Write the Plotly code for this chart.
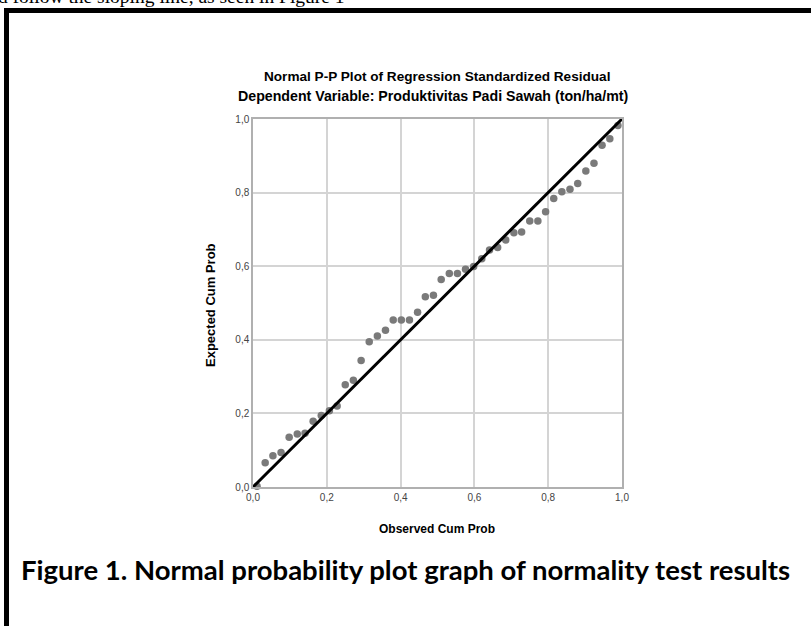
import plotly.graph_objects as go

# Observed cumulative probability (x) and expected cumulative probability (y)
observed_cum_prob = [0.011, 0.033, 0.054, 0.076, 0.098, 0.120, 0.141, 0.163, 0.185, 0.207,
                     0.228, 0.250, 0.272, 0.293, 0.315, 0.337, 0.359, 0.380, 0.402, 0.424,
                     0.446, 0.467, 0.489, 0.510, 0.532, 0.554, 0.576, 0.598, 0.620, 0.641,
                     0.663, 0.685, 0.707, 0.728, 0.750, 0.772, 0.793, 0.815, 0.837, 0.859,
                     0.880, 0.902, 0.924, 0.946, 0.967, 0.989]
expected_cum_prob = [0.002, 0.066, 0.085, 0.094, 0.135, 0.144, 0.146, 0.179, 0.194, 0.207,
                     0.220, 0.278, 0.290, 0.344, 0.395, 0.410, 0.426, 0.454, 0.454, 0.454,
                     0.475, 0.517, 0.521, 0.564, 0.580, 0.580, 0.592, 0.599, 0.620, 0.644,
                     0.651, 0.671, 0.691, 0.693, 0.723, 0.723, 0.748, 0.784, 0.802, 0.809,
                     0.825, 0.859, 0.880, 0.929, 0.946, 0.982]
ref_line_x = [0.0, 1.0]
ref_line_y = [0.0, 1.0]
tick_vals = [0.0, 0.2, 0.4, 0.6, 0.8, 1.0]

W, H = 811, 626
L, R, T, B = 253, 622, 119, 487  # plot area in pixels


def px(x):
    return (x - L) / (R - L)


def py(y):
    return (B - y) / (B - T)


fig = go.Figure()
fig.add_trace(go.Scatter(x=observed_cum_prob, y=expected_cum_prob, mode="markers",
                         marker=dict(size=7.5, color="#7a7a7a", line=dict(width=0)),
                         showlegend=False, cliponaxis=False))
fig.add_trace(go.Scatter(x=ref_line_x, y=ref_line_y, mode="lines",
                         line=dict(color="black", width=3), showlegend=False))

axis_common = dict(range=[0, 1], tickvals=tick_vals, tickformat=".1f",
                   showgrid=True, gridcolor="#d4d4d4", gridwidth=1.5,
                   showline=True, linecolor="#b0b0b0", linewidth=1.5, mirror=True,
                   zeroline=False, ticks="",
                   tickfont=dict(family="Liberation Sans, Arial", size=10, color="#444444"))

fig.update_layout(
    width=W, height=H,
    margin=dict(l=L, r=W - R, t=T, b=H - B, pad=0),
    paper_bgcolor="white", plot_bgcolor="white",
    separators=",.",
    xaxis=dict(**axis_common),
    yaxis=dict(**axis_common),
)

annos = [
    dict(text="<b>Normal P-P Plot of Regression Standardized Residual</b>", x=px(437), y=py(76),
         size=13.6, family="Liberation Sans, Arial"),
    dict(text="<b>Dependent Variable: Produktivitas Padi Sawah (ton/ha/mt)</b>", x=px(433), y=py(96),
         size=14.2, family="Liberation Sans, Arial"),
    dict(text="<b>Observed Cum Prob</b>", x=px(437), y=py(529), size=12, family="Liberation Sans, Arial"),
    dict(text="<b>Figure 1. Normal probability plot graph of normality test results</b>", x=px(405), y=py(569),
         size=27.5, family="Lato, Open Sans"),
]
for a in annos:
    fig.add_annotation(text=a["text"], x=a["x"], y=a["y"], xref="paper", yref="paper",
                       xanchor="center", yanchor="middle", showarrow=False,
                       font=dict(family=a["family"], size=a["size"], color="black"))

fig.add_annotation(text="<b>Expected Cum Prob</b>", x=px(210), y=py(305), xref="paper", yref="paper",
                   xanchor="center", yanchor="middle", showarrow=False, textangle=-90,
                   font=dict(family="Liberation Sans, Arial", size=13, color="black"))

fig.add_annotation(text="d follow the sloping line, as seen in Figure 1", x=px(-4), y=py(-3),
                   xref="paper", yref="paper", xanchor="left", yanchor="middle", showarrow=False,
                   font=dict(family="Liberation Serif, Times New Roman", size=19.5, color="black"))

# outer figure border (top and left edges)
fig.add_shape(type="line", xref="paper", yref="paper", x0=px(4), x1=px(811), y0=py(10.5), y1=py(10.5),
              line=dict(color="black", width=5))
fig.add_shape(type="line", xref="paper", yref="paper", x0=px(6.5), x1=px(6.5), y0=py(8), y1=py(626),
              line=dict(color="black", width=5))

fig.write_html("out.html", config={"displayModeBar": False},
               post_script="document.body.style.margin='0';document.body.style.overflow='hidden';")
